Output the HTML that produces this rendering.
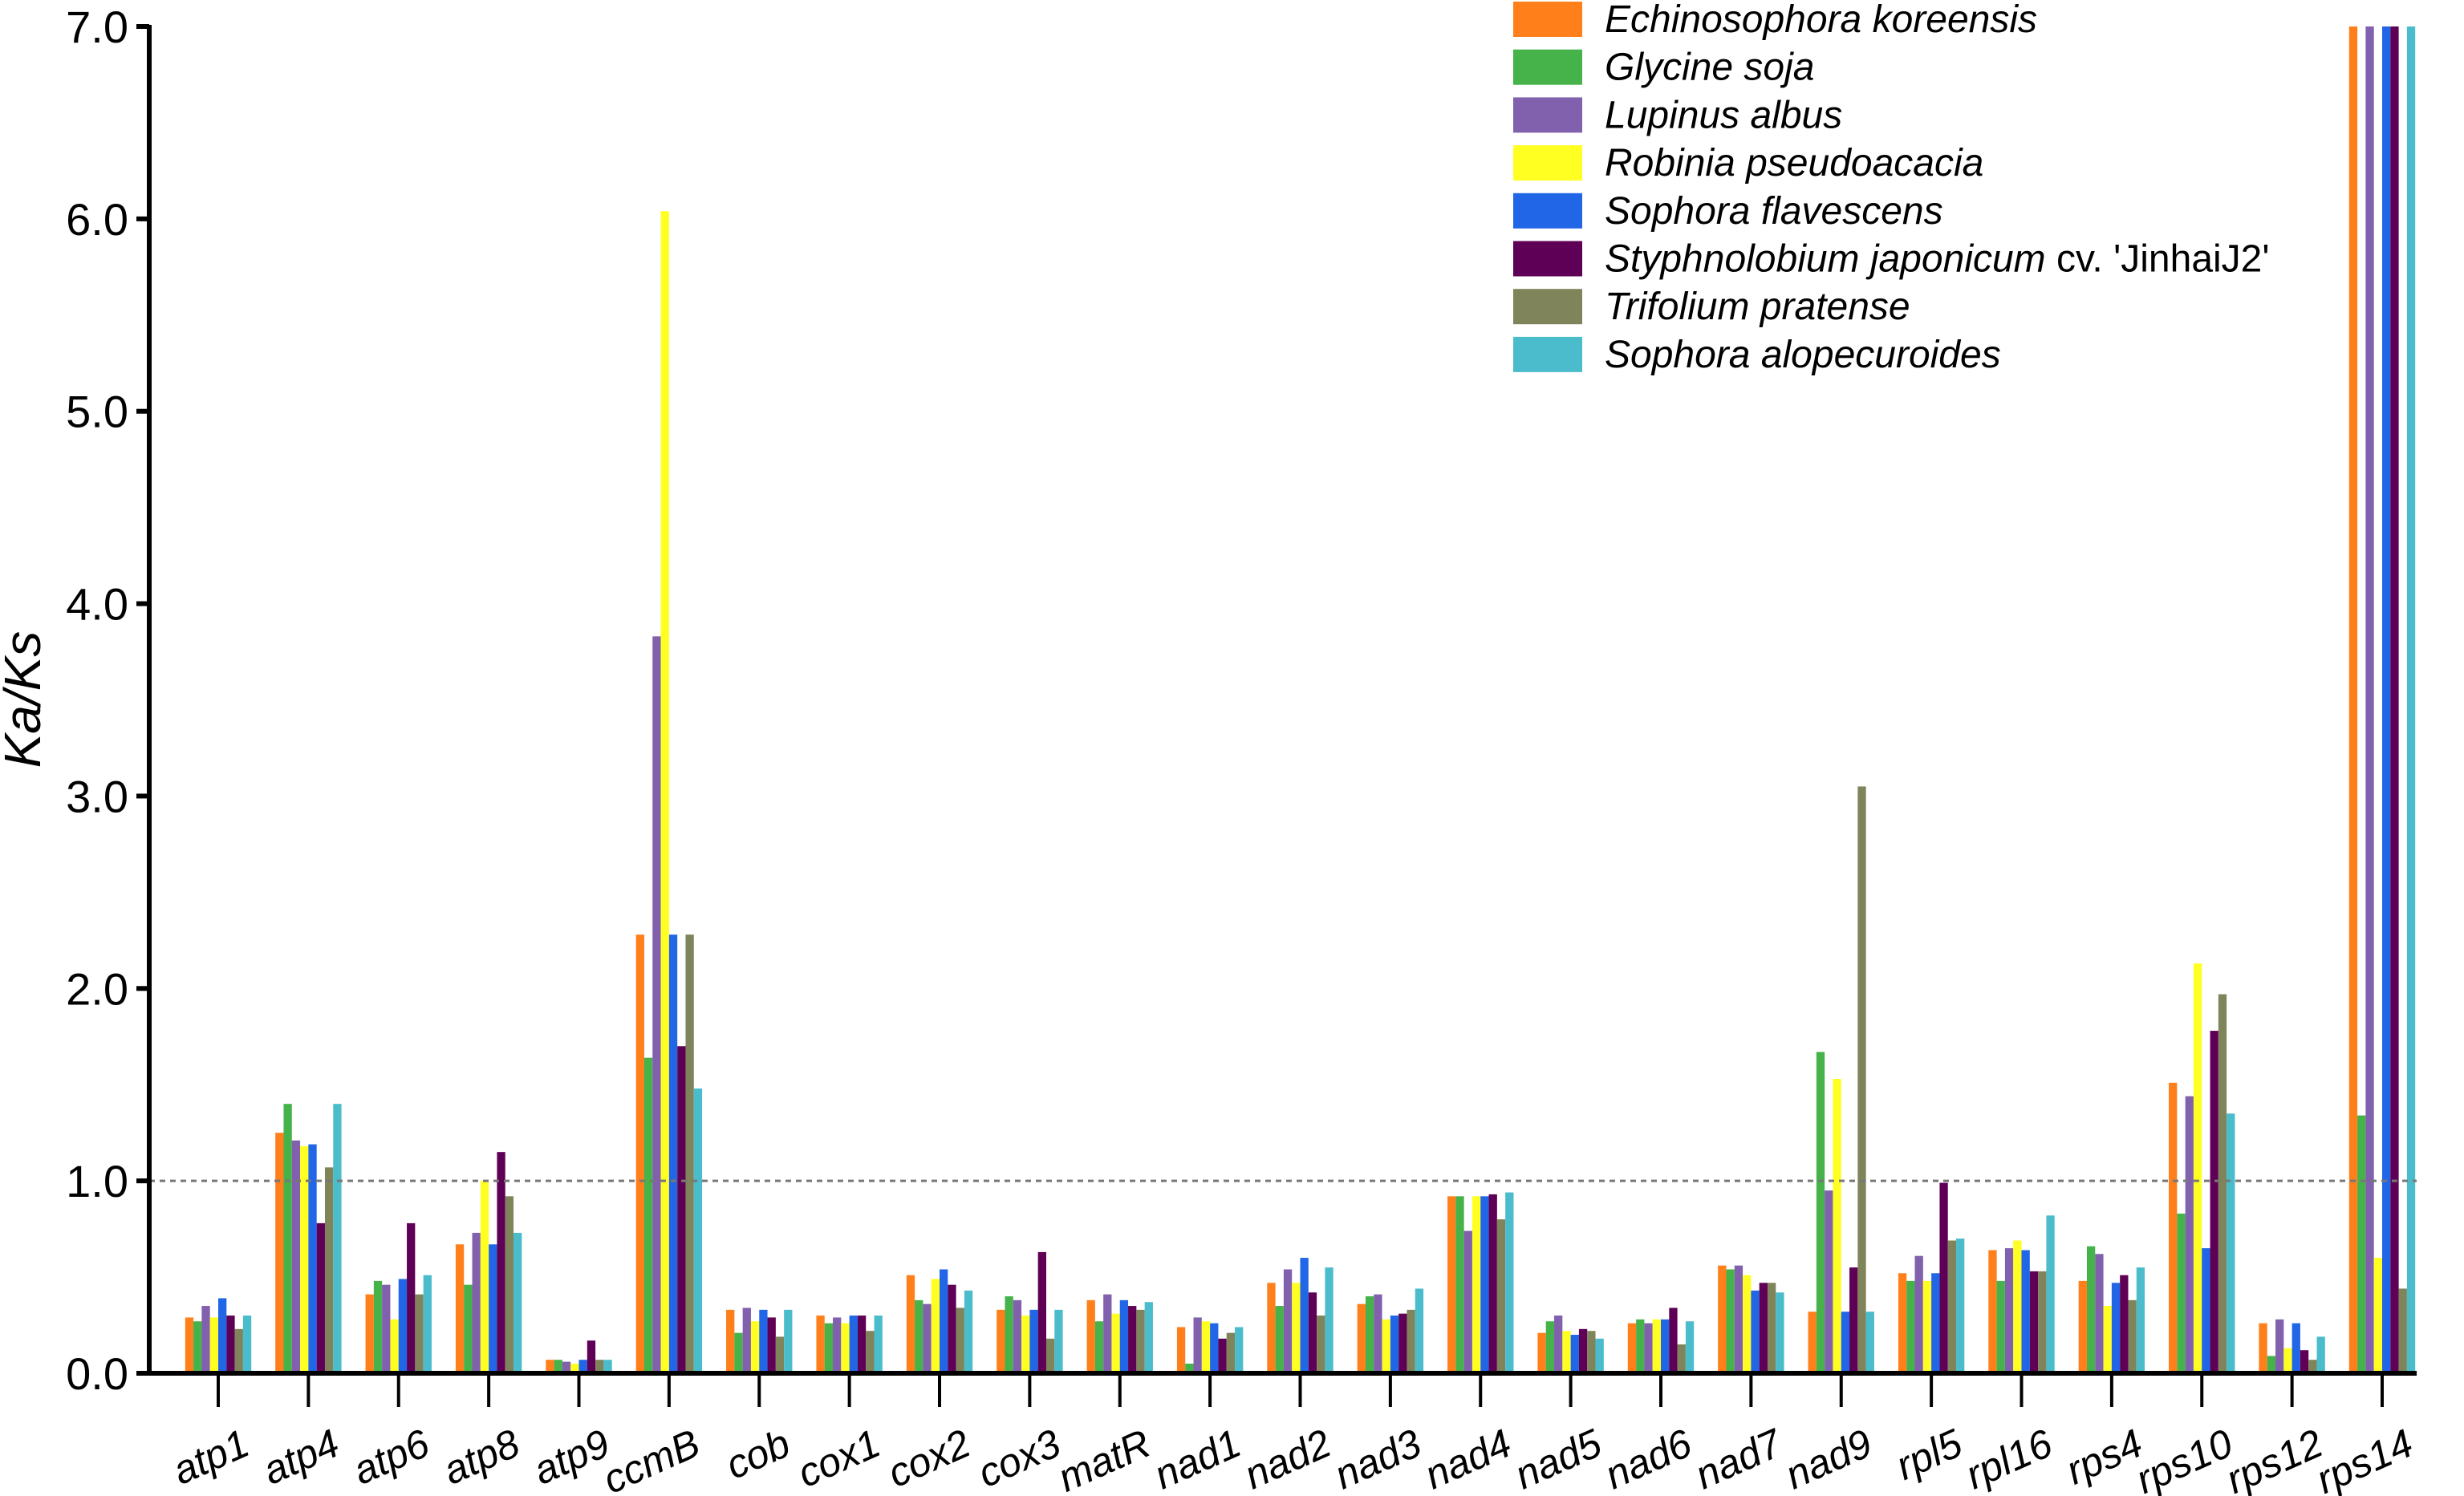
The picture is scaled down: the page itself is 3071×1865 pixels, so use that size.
<!DOCTYPE html>
<html><head><meta charset="utf-8"><style>
html,body{margin:0;padding:0;background:#fff;}
svg{display:block;font-family:"Liberation Sans",Arial,sans-serif;}
</style></head><body>
<svg id="chart" width="3071" height="1865" viewBox="0 0 3071 1865" xmlns="http://www.w3.org/2000/svg">
<g id="bars"></g>
<g id="axes"></g>
<g id="legend"></g>
</svg>
<script>
const genes = ["atp1","atp4","atp6","atp8","atp9","ccmB","cob","cox1","cox2","cox3","matR","nad1","nad2","nad3","nad4","nad5","nad6","nad7","nad9","rpl5","rpl16","rps4","rps10","rps12","rps14"];
const species = ["Echinosophora koreensis","Glycine soja","Lupinus albus","Robinia pseudoacacia","Sophora flavescens","Styphnolobium japonicum","Trifolium pratense","Sophora alopecuroides"];
const colors = ["#FF7F1A","#46B24A","#8160AD","#FFFF22","#2166E6","#5E0055","#80845A","#4BBCCB"];
const echinosophora = [0.29,1.25,0.41,0.67,0.07,2.28,0.33,0.30,0.51,0.33,0.38,0.24,0.47,0.36,0.92,0.21,0.26,0.56,0.32,0.52,0.64,0.48,1.51,0.26,7];
const glycine = [0.27,1.40,0.48,0.46,0.07,1.64,0.21,0.26,0.38,0.40,0.27,0.05,0.35,0.40,0.92,0.27,0.28,0.54,1.67,0.48,0.48,0.66,0.83,0.09,1.34];
const lupinus = [0.35,1.21,0.46,0.73,0.06,3.83,0.34,0.29,0.36,0.38,0.41,0.29,0.54,0.41,0.74,0.30,0.26,0.56,0.95,0.61,0.65,0.62,1.44,0.28,7];
const robinia = [0.29,1.18,0.28,1.00,0.05,6.04,0.27,0.26,0.49,0.30,0.31,0.27,0.47,0.28,0.92,0.22,0.28,0.51,1.53,0.48,0.69,0.35,2.13,0.13,0.60];
const sophoraFlav = [0.39,1.19,0.49,0.67,0.07,2.28,0.33,0.30,0.54,0.33,0.38,0.26,0.60,0.30,0.92,0.20,0.28,0.43,0.32,0.52,0.64,0.47,0.65,0.26,7];
const styphnolobium = [0.30,0.78,0.78,1.15,0.17,1.70,0.29,0.30,0.46,0.63,0.35,0.18,0.42,0.31,0.93,0.23,0.34,0.47,0.55,0.99,0.53,0.51,1.78,0.12,7];
const trifolium = [0.23,1.07,0.41,0.92,0.07,2.28,0.19,0.22,0.34,0.18,0.33,0.21,0.30,0.33,0.80,0.22,0.15,0.47,3.05,0.69,0.53,0.38,1.97,0.07,0.44];
const sophoraAlop = [0.30,1.40,0.51,0.73,0.07,1.48,0.33,0.30,0.43,0.33,0.37,0.24,0.55,0.44,0.94,0.18,0.27,0.42,0.32,0.70,0.82,0.55,1.35,0.19,7];
const series = [echinosophora,glycine,lupinus,robinia,sophoraFlav,styphnolobium,trifolium,sophoraAlop];
const yTicks = [0,1,2,3,4,5,6,7];

const NS="http://www.w3.org/2000/svg";
const X0=186, X1=3012, Y0=1712, Y7=33, YMAX=7;
const yScale=v=>Y0-(v/YMAX)*(Y0-Y7);
const gx0=272, gStep=(2969-272)/24, barW=10.3;
const xScale=i=>gx0+i*gStep;
function mk(tag,attrs,parent){const e=document.createElementNS(NS,tag);for(const k in attrs)e.setAttribute(k,attrs[k]);parent.appendChild(e);return e;}
const bars=document.getElementById('bars'),axes=document.getElementById('axes'),legend=document.getElementById('legend');

series.forEach((vals,s)=>{
  vals.forEach((v,i)=>{
    const x=xScale(i)-4*barW+s*barW;
    const y=yScale(Math.min(v,YMAX));
    const r=mk('rect',{x:x,y:y,width:barW,height:Y0-y,fill:colors[s]},bars);
    
    
  });
});

const ref=mk('line',{x1:X0,x2:X1,y1:yScale(1),y2:yScale(1),stroke:'#777','stroke-width':3,'stroke-dasharray':'7 6'},axes);



const ya=mk('line',{x1:X0,x2:X0,y1:Y7-2,y2:Y0+3,stroke:'#000','stroke-width':6},axes);


const xa=mk('line',{x1:X0-3,x2:X1,y1:Y0,y2:Y0,stroke:'#000','stroke-width':6},axes);



yTicks.forEach(t=>{
  const y=yScale(t);
  const tk=mk('line',{x1:X0-16,x2:X0,y1:y,y2:y,stroke:'#000','stroke-width':6},axes);
  
  
  const tx=mk('text',{x:X0-26,y:y+20,'text-anchor':'end','font-size':56,fill:'#000'},axes);
  tx.textContent=t.toFixed(1);
  
  
});

genes.forEach((g,i)=>{
  const x=xScale(i);
  const tk=mk('line',{x1:x,x2:x,y1:Y0,y2:Y0+42,stroke:'#000','stroke-width':4},axes);
  
  
  const ax=x+42, ay=1812;
  const tx=mk('text',{x:ax,y:ay,'text-anchor':'end','font-size':50,'font-style':'italic',fill:'#000',transform:'rotate(-24 '+ax+' '+ay+')'},axes);
  tx.textContent=g;
  
  
});

const yt=mk('text',{x:50,y:872,'text-anchor':'middle','font-size':64,'font-style':'italic',fill:'#000',transform:'rotate(-90 50 872)'},axes);
yt.textContent='Ka/Ks';



species.forEach((sp,s)=>{
  const y=2+s*59.7;
  const sw=mk('rect',{x:1886,y:y,width:86,height:44,fill:colors[s]},legend);
  
  
  const tx=mk('text',{x:2000,y:y+38,'font-size':48,fill:'#000'},legend);
  
  
  const t1=mk('tspan',{'font-style':'italic'},tx);
  t1.textContent=sp;
  if(s===5){
    const t2=mk('tspan',{},tx);
    t2.textContent=" cv. 'JinhaiJ2'";
  }
});
</script>
</body></html>
